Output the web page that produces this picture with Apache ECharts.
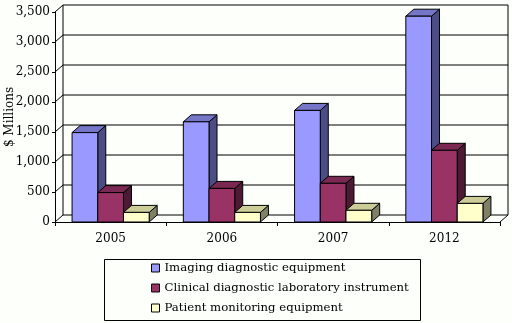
<!DOCTYPE html>
<html><head><meta charset="utf-8">
<script src="https://cdn.jsdelivr.net/npm/echarts@6/dist/echarts.min.js"></script>
<style>html,body{margin:0;padding:0;background:#fdfffb;}#c{width:512px;height:323px;}</style>
</head><body><div id="c"></div>
<script>
const categories = ['2005', '2006', '2007', '2012'];
const seriesNames = ['Imaging diagnostic equipment', 'Clinical diagnostic laboratory instrument', 'Patient monitoring equipment'];
const imaging = [1490, 1670, 1860, 3430];
const clinical = [490, 560, 645, 1195];
const patient = [160, 160, 195, 310];
const yTicks = [0, 500, 1000, 1500, 2000, 2500, 3000, 3500];

const DX = 8, DY = -7;
const palette = [
  {front: '#9999ff', top: '#7676c8', side: '#4d4d85'},
  {front: '#993366', top: '#7a2952', side: '#4d1a33'},
  {front: '#ffffcc', top: '#cccc99', side: '#808066'}
];
const FONT = '"DejaVu Serif", "Liberation Serif", serif';

function barSeries(name, values, s) {
  return {
    type: 'custom', name: name, z: 10 + s,
    itemStyle: {color: palette[s].front, borderColor: '#000', borderWidth: 1},
    encode: {x: 0, y: 1},
    data: values.map((v, i) => [i, v]),
    renderItem: function (params, api) {
      const idx = api.value(0), val = api.value(1);
      const base = api.coord([idx, 0]);
      const top = api.coord([idx, val]);
      const band = api.size([1, 0])[0];
      const bw = band * 0.231;
      const cx = base[0] + (s - 1) * bw;
      const l = cx - bw / 2, r = cx + bw / 2, t = top[1], b = base[1];
      const st = (c) => ({fill: c, stroke: '#000', lineWidth: 1});
      return {type: 'group', children: [
        {type: 'polygon', shape: {points: [[r, t], [r + DX, t + DY], [r + DX, b + DY], [r, b]]}, style: st(palette[s].side)},
        {type: 'polygon', shape: {points: [[l, t], [l + DX, t + DY], [r + DX, t + DY], [r, t]]}, style: st(palette[s].top)},
        {type: 'polygon', shape: {points: [[l, t], [r, t], [r, b], [l, b]]}, style: st(palette[s].front)}
      ]};
    }
  };
}

const wallSeries = {
  type: 'custom', z: 1, silent: true, legendHoverLink: false,
  data: yTicks.map(v => [0, v]),
  encode: {x: 0, y: 1},
  renderItem: function (params, api) {
    const cs = params.coordSys;
    const x0 = cs.x, x1 = cs.x + cs.width;
    const y = api.coord([0, api.value(1)])[1];
    const ln = (a, b, c, d) => ({type: 'line', shape: {x1: a, y1: b, x2: c, y2: d}, style: {stroke: '#000', lineWidth: 1}});
    const kids = [
      ln(x0 + DX, y + DY, x1 + DX, y + DY),
      ln(x0, y, x0 + DX, y + DY)
    ];
    if (params.dataIndex === 0) {
      const yTop = api.coord([0, yTicks[yTicks.length - 1]])[1];
      kids.push(ln(x0 + DX, y + DY, x0 + DX, yTop + DY));
      kids.push(ln(x1 + DX, y + DY, x1 + DX, yTop + DY));
      kids.push(ln(x1, y, x1 + DX, y + DY));
    }
    return {type: 'group', children: kids};
  }
};

const chart = echarts.init(document.getElementById('c'), null, {renderer: 'canvas'});
chart.setOption({
  backgroundColor: '#fdfffb',
  animation: false,
  textStyle: {fontFamily: FONT},
  grid: {left: 55, right: 12, top: 12, bottom: 101, containLabel: false, outerBoundsMode: 'none'},
  xAxis: {
    type: 'category', data: categories, boundaryGap: true,
    axisLine: {show: true, lineStyle: {color: '#000', width: 1}},
    axisTick: {show: true, length: 4, lineStyle: {color: '#000'}},
    axisLabel: {color: '#000', fontSize: 12, fontFamily: FONT, margin: 11},
    splitLine: {show: false}
  },
  yAxis: {
    type: 'value', min: 0, max: 3500, interval: 500,
    name: '$ Millions', nameLocation: 'middle', nameRotate: 90, nameGap: 39,
    nameMoveOverlap: false,
    nameTextStyle: {color: '#000', fontSize: 12, fontFamily: FONT},
    axisLine: {show: true, lineStyle: {color: '#000', width: 1}},
    axisTick: {show: true, length: 3, lineStyle: {color: '#000'}},
    axisLabel: {color: '#000', fontSize: 12, fontFamily: FONT, margin: 5,
      formatter: v => v.toLocaleString('en-US')},
    splitLine: {show: false}
  },
  legend: {
    orient: 'vertical', left: 102, top: 258,
    padding: [3, 10, 3, 49],
    itemWidth: 8, itemHeight: 8, itemGap: 6,
    icon: 'rect',
    itemStyle: {borderColor: '#000', borderWidth: 1},
    textStyle: {color: '#000', fontSize: 11.7, fontFamily: FONT, lineHeight: 14},
    data: seriesNames
  },
  graphic: [{
    type: 'rect', left: 102, top: 257,
    shape: {width: 316, height: 61},
    style: {fill: 'none', stroke: '#000', lineWidth: 1}
  }],
  series: [
    wallSeries,
    barSeries(seriesNames[0], imaging, 0),
    barSeries(seriesNames[1], clinical, 1),
    barSeries(seriesNames[2], patient, 2)
  ]
});
</script></body></html>
